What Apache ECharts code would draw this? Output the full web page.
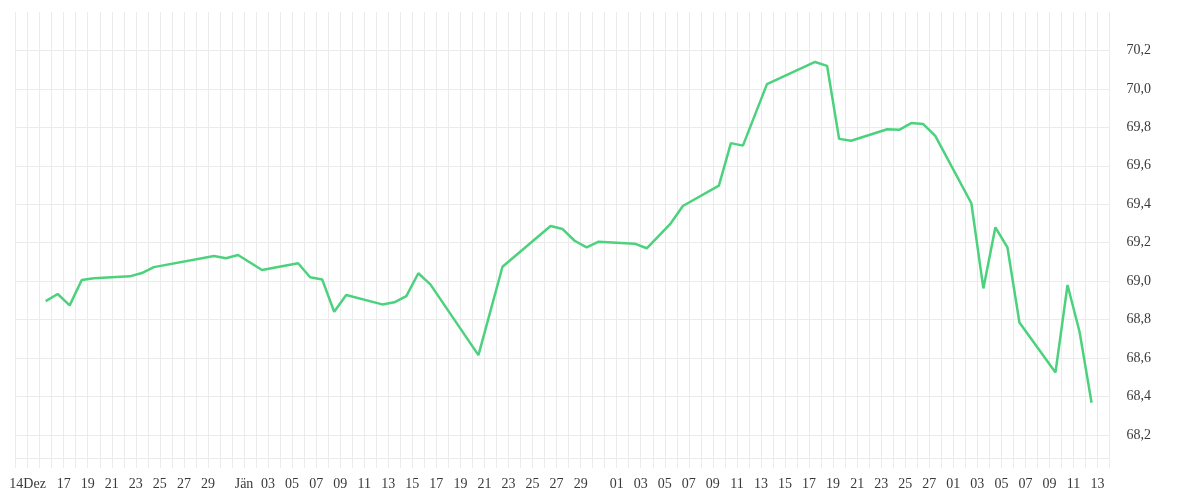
<!DOCTYPE html>
<html>
<head>
<meta charset="utf-8">
<script src="https://cdn.jsdelivr.net/npm/echarts@6/dist/echarts.min.js"></script>
<style>
  html, body { margin: 0; padding: 0; background: #ffffff; }
  #chart { width: 1200px; height: 500px; }
</style>
</head>
<body>
<div id="chart"></div>
<script>
// ---- data ----
const startDate = '2014-12-14';
const endDate = '2015-03-14';
const firstGridDate = '2014-12-13';

const dates = [
  '2014-12-15','2014-12-16','2014-12-17','2014-12-18','2014-12-19',
  '2014-12-22','2014-12-23','2014-12-24',
  '2014-12-29','2014-12-30','2014-12-31','2015-01-02',
  '2015-01-05','2015-01-06','2015-01-07','2015-01-08','2015-01-09',
  '2015-01-12','2015-01-13','2015-01-14','2015-01-15','2015-01-16',
  '2015-01-20','2015-01-22',
  '2015-01-26','2015-01-27','2015-01-28','2015-01-29','2015-01-30',
  '2015-02-02','2015-02-03','2015-02-05','2015-02-06',
  '2015-02-09','2015-02-10','2015-02-11','2015-02-13',
  '2015-02-17','2015-02-18','2015-02-19','2015-02-20',
  '2015-02-23','2015-02-24','2015-02-25','2015-02-26','2015-02-27',
  '2015-03-02','2015-03-03','2015-03-04','2015-03-05','2015-03-06',
  '2015-03-09','2015-03-10','2015-03-11','2015-03-12'
];
const values = [
  68.896, 68.933, 68.874, 69.006, 69.015,
  69.025, 69.042, 69.073,
  69.131, 69.119, 69.136, 69.058,
  69.093, 69.020, 69.009, 68.841, 68.928,
  68.879, 68.890, 68.922, 69.041, 68.983,
  68.615, 69.075,
  69.287, 69.271, 69.210, 69.176, 69.205,
  69.195, 69.171, 69.301, 69.391,
  69.497, 69.718, 69.705, 70.025,
  70.140, 70.120, 69.740, 69.730,
  69.790, 69.787, 69.822, 69.817, 69.756,
  69.405, 68.962, 69.280, 69.176, 68.785,
  68.525, 68.980, 68.737, 68.367
];

const tickDates = [
  '2014-12-14','2014-12-17','2014-12-19','2014-12-21','2014-12-23','2014-12-25','2014-12-27','2014-12-29',
  '2015-01-01','2015-01-03','2015-01-05','2015-01-07','2015-01-09','2015-01-11','2015-01-13','2015-01-15',
  '2015-01-17','2015-01-19','2015-01-21','2015-01-23','2015-01-25','2015-01-27','2015-01-29',
  '2015-02-01','2015-02-03','2015-02-05','2015-02-07','2015-02-09','2015-02-11','2015-02-13','2015-02-15',
  '2015-02-17','2015-02-19','2015-02-21','2015-02-23','2015-02-25','2015-02-27',
  '2015-03-01','2015-03-03','2015-03-05','2015-03-07','2015-03-09','2015-03-11','2015-03-13'
];
const tickLabels = [
  '14Dez','17','19','21','23','25','27','29',
  'Jän','03','05','07','09','11','13','15',
  '17','19','21','23','25','27','29',
  '01','03','05','07','09','11','13','15',
  '17','19','21','23','25','27',
  '01','03','05','07','09','11','13'
];

const yMin = 68.08;
const yMax = 70.40;

// ---- build ----
const DAY = 86400000;
const t0 = Date.parse(startDate + 'T00:00:00Z');
const dayOffset = d => (Date.parse(d + 'T12:00:00Z') - t0) / DAY; // trading values at mid-day
const gridOffset = d => Math.round((Date.parse(d + 'T00:00:00Z') - t0) / DAY);

const seriesData = dates.map((d, i) => [dayOffset(d), values[i]]);
const labelMap = {};
tickDates.forEach((d, i) => { labelMap[gridOffset(d)] = tickLabels[i]; });

const gridColor = '#ebebeb';
const textStyle = { fontFamily: 'Liberation Serif', fontSize: 14, color: '#3a3a3a' };

const chart = echarts.init(document.getElementById('chart'), null, { renderer: 'canvas' });
chart.setOption({
  animation: false,
  backgroundColor: '#ffffff',
  grid: { left: 15.6, right: 90.4, top: 12, bottom: 42, containLabel: false },
  xAxis: {
    type: 'value',
    min: gridOffset(firstGridDate),
    max: gridOffset(endDate),
    interval: 1,
    axisLine: { show: true, lineStyle: { color: gridColor, width: 1 } },
    axisTick: { show: true, length: 10, lineStyle: { color: gridColor } },
    splitLine: { show: true, lineStyle: { color: gridColor, width: 1 } },
    axisLabel: Object.assign({
      margin: 19,
      showMinLabel: true, showMaxLabel: true,
      formatter: v => labelMap[Math.round(v)] || ''
    }, textStyle)
  },
  yAxis: {
    type: 'value',
    position: 'right',
    min: yMin,
    max: yMax,
    splitNumber: 12,
    axisLine: { show: false },
    axisTick: { show: false },
    splitLine: { show: true, showMinLine: false, showMaxLine: false, lineStyle: { color: gridColor, width: 1 } },
    axisLabel: Object.assign({
      margin: 17,
      padding: [5, 0, 0, 0],
      showMinLabel: false, showMaxLabel: false,
      formatter: v => v.toFixed(1).replace('.', ',')
    }, textStyle)
  },
  series: [{
    type: 'line',
    data: seriesData,
    showSymbol: false,
    symbol: 'none',
    lineStyle: { color: '#4cd27d', width: 2.5 },
    itemStyle: { color: '#4cd27d' }
  }]
});
</script>
</body>
</html>
